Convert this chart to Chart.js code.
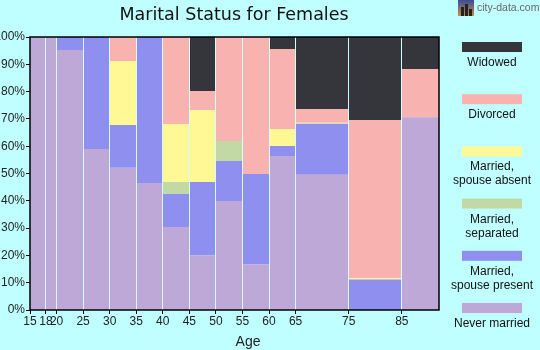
<!DOCTYPE html>
<html>
<head>
<meta charset="utf-8">
<title>Marital Status for Females</title>
<script src="https://cdn.jsdelivr.net/npm/chart.js@4.4.0/dist/chart.umd.min.js"></script>
<style>
  body { margin: 0; background: #c0ffff; }
  #wrap { width: 540px; height: 350px; position: relative; }
</style>
</head>
<body>
<div id="wrap"><canvas id="chart" width="540" height="350"></canvas></div>
<script>
// left edge of every age group, the last group runs up to ageMax
var ageEdges = [15, 18, 20, 25, 30, 35, 40, 45, 50, 55, 60, 65, 75, 85];
var ageMax = 92;
var yTicks = [0, 10, 20, 30, 40, 50, 60, 70, 80, 90, 100];

var chartTitle = 'Marital Status for Females';
var xTitle = 'Age';

// bottom to top
var statusLabels = ['Never married', 'Married, spouse present', 'Married, separated',
                    'Married, spouse absent', 'Divorced', 'Widowed'];
var statusColors = ['#bea8d8', '#8f8ff0', '#c2d9a6', '#fff894', '#f8b2b0', '#35363c'];

// percent of females in each age group
var neverMarried   = [100, 100, 95.2, 59, 52.1, 46.5, 30.4, 20.1, 39.9, 16.8, 56.4, 49.5, 0, 70.6];
var spousePresent  = [0, 0, 4.8, 41, 15.7, 53.5, 12.1, 26.8, 14.7, 33, 3.7, 18.7, 11.2, 0];
var separated      = [0, 0, 0, 0, 0, 0, 4.4, 0, 7.3, 0, 0, 0, 0, 0];
var spouseAbsent   = [0, 0, 0, 0, 23.4, 0, 21.2, 26.4, 0, 0, 6.2, 0.4, 0.5, 0];
var divorced       = [0, 0, 0, 0, 8.8, 0, 31.9, 6.9, 38.1, 50.2, 29.3, 5.0, 57.9, 17.7];
var widowed        = [0, 0, 0, 0, 0, 0, 0, 19.8, 0, 0, 4.4, 26.4, 30.4, 11.7];

var seriesValues = [neverMarried, spousePresent, separated, spouseAbsent, divorced, widowed];

// stepped line: every value holds from its edge to the next one
function stepPoints(vals) {
  var pts = ageEdges.map(function (x, i) { return { x: x, y: vals[i] }; });
  pts.push({ x: ageMax, y: vals[vals.length - 1] });
  return pts;
}

var datasets = seriesValues.map(function (vals, i) {
  return {
    label: statusLabels[i],
    data: stepPoints(vals),
    stepped: 'before',
    fill: i === 0 ? 'origin' : '-1',
    backgroundColor: statusColors[i],
    borderColor: 'transparent',
    borderWidth: 0,
    pointRadius: 0,
    pointHoverRadius: 0
  };
});

var decor = {
  id: 'decor',
  afterDraw: function (chart) {
    var ctx = chart.ctx, a = chart.chartArea;
    ctx.save();
    ctx.strokeStyle = '#000';
    ctx.lineWidth = 1.5;
    ctx.strokeRect(a.left, a.top, a.right - a.left, a.bottom - a.top);

    ctx.fillStyle = '#111';
    ctx.textAlign = 'center';
    ctx.textBaseline = 'alphabetic';
    ctx.font = '17.5px "DejaVu Sans", Verdana, sans-serif';
    ctx.fillText(chartTitle, 234, 20);

    ctx.font = '14px "Liberation Sans", Arial, sans-serif';
    ctx.fillStyle = '#222';
    ctx.fillText(xTitle, 248, 346);

    // watermark
    var g = ctx.createLinearGradient(0, 0, 0, 16);
    g.addColorStop(0, '#3a4a9a');
    g.addColorStop(1, '#c89040');
    ctx.fillStyle = g;
    ctx.fillRect(458, 0, 16, 16);
    ctx.fillStyle = '#222';
    ctx.fillRect(461, 7, 3, 9);
    ctx.fillRect(465, 4, 3, 12);
    ctx.fillRect(469, 9, 3, 7);
    ctx.fillStyle = '#666';
    ctx.textAlign = 'left';
    ctx.font = '10.5px "Liberation Sans", Arial, sans-serif';
    ctx.fillText('city-data.com', 477, 11);

    // legend, top entry is the last series
    ctx.textAlign = 'center';
    ctx.font = '12px "Liberation Sans", Arial, sans-serif';
    var ds = chart.data.datasets;
    for (var k = 0; k < ds.length; k++) {
      var d = ds[ds.length - 1 - k];
      var top = 42 + k * 52.2;
      ctx.fillStyle = d.backgroundColor;
      ctx.fillRect(462, top, 60, 10);
      ctx.fillStyle = '#111';
      var lines = d.label.indexOf(', ') > 0 ? d.label.replace(', ', ',\n').split('\n') : [d.label];
      lines.forEach(function (t, j) {
        ctx.fillText(t, 492, top + 24 + j * 14);
      });
    }
    ctx.restore();
  }
};

new Chart(document.getElementById('chart'), {
  type: 'line',
  data: { datasets: datasets },
  options: {
    responsive: false,
    animation: false,
    layout: { padding: { top: 37, right: 101, left: 0, bottom: 0 } },
    plugins: {
      legend: { display: false },
      title: { display: false },
      tooltip: { enabled: false }
    },
    scales: {
      x: {
        type: 'linear',
        min: ageEdges[0],
        max: ageMax,
        afterBuildTicks: function (scale) {
          scale.ticks = ageEdges.map(function (v) { return { value: v }; });
        },
        afterFit: function (scale) { scale.height = 40; },
        grid: {
          z: 1,
          color: function (c) { return c.tick && c.tick.value === ageEdges[0] ? 'transparent' : '#d4ffff'; },
          tickColor: '#000',
          tickLength: 4,
          lineWidth: 1
        },
        border: { display: false },
        ticks: {
          autoSkip: false,
          maxRotation: 0,
          padding: 0,
          color: '#222',
          font: { family: '"Liberation Sans Narrow", "Liberation Sans", Arial', size: 12 }
        }
      },
      y: {
        stacked: true,
        min: 0,
        max: 100,
        afterBuildTicks: function (scale) {
          scale.ticks = yTicks.map(function (v) { return { value: v }; });
        },
        afterFit: function (scale) { scale.width = 30; },
        grid: { drawOnChartArea: false, tickColor: '#000', tickLength: 4 },
        border: { display: false },
        ticks: {
          padding: 1,
          color: '#222',
          font: { family: '"Liberation Sans Narrow", "Liberation Sans", Arial', size: 12 },
          callback: function (v) { return v + '%'; }
        }
      }
    }
  },
  plugins: [decor]
});
</script>
</body>
</html>
